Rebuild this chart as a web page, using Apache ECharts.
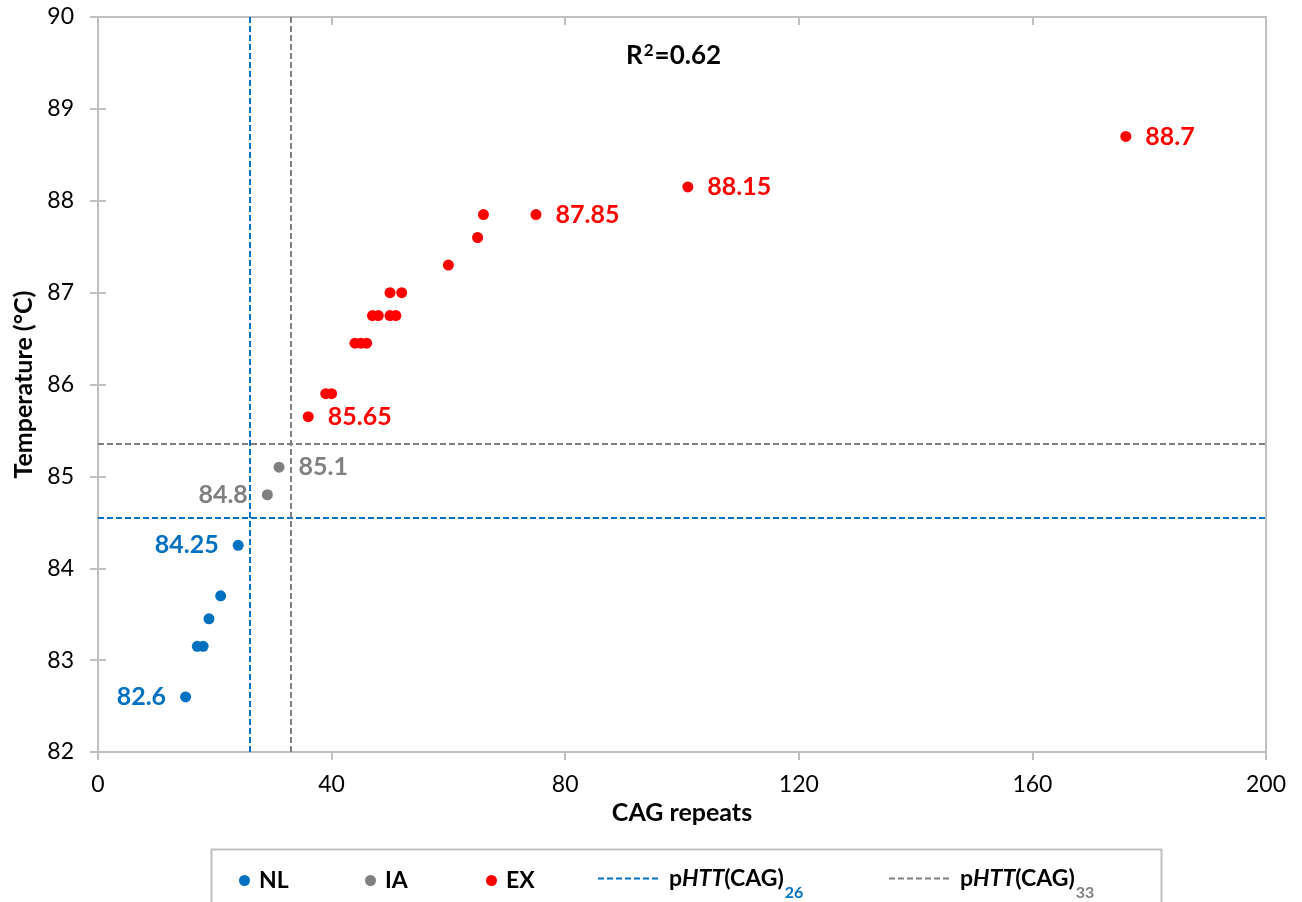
<!DOCTYPE html>
<html>
<head>
<meta charset="utf-8">
<title>CAG repeats vs temperature</title>
<script src="https://cdn.jsdelivr.net/npm/echarts@6/dist/echarts.min.js"></script>
<style>
  html, body { margin: 0; padding: 0; background: #fff; }
  #chart { width: 1302px; height: 902px; }
</style>
</head>
<body>
<div id="chart"></div>
<script>
// values
const nlX = [15, 17, 18, 19, 21, 24]
const nlY = [82.6, 83.15, 83.15, 83.45, 83.7, 84.25]
const iaX = [29, 31]
const iaY = [84.8, 85.1]
const exX = [36, 39, 40, 44, 45, 46, 47, 48, 50, 51, 50, 52, 60, 65, 66, 75, 101, 176]
const exY = [85.65, 85.9, 85.9, 86.45, 86.45, 86.45, 86.75, 86.75, 86.75, 86.75, 87.0, 87.0, 87.3, 87.6, 87.85, 87.85, 88.15, 88.7]
const cag26 = [26, 84.55]
const cag33 = [33, 85.35]
const xTicks = [0, 40, 80, 120, 160, 200]
const yTicks = [82, 83, 84, 85, 86, 87, 88, 89, 90]
const rSquared = '0.62'

const FONT = 'Lato'
const BLUE = '#0070c0'
const GREY = '#808080'
const RED = '#ff0000'
const AXIS = '#bfbfbf'

// which points carry a value label, and on which side
function points(xs, ys, color, labelled) {
  return xs.map((x, i) => {
    const item = { value: [x, ys[i]] }
    if (labelled[i]) {
      item.label = {
        show: true,
        position: labelled[i],
        distance: 14,
        formatter: String(ys[i]),
        color: color,
        fontFamily: FONT,
        fontWeight: 'bold',
        fontSize: 25
      }
    }
    return item
  })
}

function scatter(name, color, data) {
  return {
    name: name,
    type: 'scatter',
    symbolSize: 11,
    itemStyle: { color: color, opacity: 1 },
    data: data,
    z: 5
  }
}

function refLine(name, color, v) {
  return {
    name: name,
    type: 'line',
    data: [],
    symbol: 'none',
    itemStyle: { color: color },
    lineStyle: { color: color, width: 2, type: [6, 3] },
    markLine: {
      silent: true,
      symbol: 'none',
      animation: false,
      label: { show: false },
      lineStyle: { color: color, width: 2, type: [6, 3] },
      data: [{ xAxis: v[0] }, { yAxis: v[1] }]
    }
  }
}

const baseAxis = {
  type: 'value',
  axisLine: { show: true, lineStyle: { color: AXIS, width: 2 } },
  splitLine: { show: false }
}

const legendText = { fontFamily: FONT, fontWeight: 'bold', fontSize: 23, color: '#000', padding: [0, 0, 0, 4] }

function subRich(color) {
  return {
    n: { fontFamily: FONT, fontWeight: 'bold', fontSize: 23, color: '#000', lineHeight: 26 },
    i: { fontFamily: FONT, fontWeight: 'bold', fontStyle: 'italic', fontSize: 23, color: '#000', lineHeight: 26 },
    s: { fontFamily: FONT, fontWeight: 'bold', fontSize: 16, color: color, verticalAlign: 'bottom', lineHeight: 14, padding: [0, 0, -9, 1] }
  }
}

function scatterLegend(name, left) {
  return {
    data: [{ name: name, icon: 'circle' }],
    left: left,
    top: 869,
    padding: 0,
    itemWidth: 11,
    itemHeight: 11,
    textStyle: legendText
  }
}

function lineLegend(name, left, sub, color) {
  return {
    data: [name],
    left: left,
    top: 867,
    padding: 0,
    itemWidth: 60,
    itemHeight: 14,
    itemStyle: { opacity: 0 },
    formatter: () => '{n|p}{i|HTT}{n|(CAG)}{s|' + sub + '}',
    textStyle: { padding: [0, 0, 0, 6], rich: subRich(color) }
  }
}

const chart = echarts.init(document.getElementById('chart'))

chart.setOption({
  animation: false,
  backgroundColor: '#fff',
  grid: {
    left: 98, right: 36, top: 17, bottom: 150,
    show: true, borderColor: AXIS, borderWidth: 2
  },
  xAxis: [
    Object.assign({}, baseAxis, {
      min: xTicks[0], max: xTicks[xTicks.length - 1], interval: 40,
      name: 'CAG repeats', nameLocation: 'middle', nameGap: 44,
      nameTextStyle: { fontFamily: FONT, fontWeight: 'bold', fontSize: 25, color: '#000' },
      axisTick: { show: true, length: 8, lineStyle: { color: AXIS, width: 2 } },
      axisLabel: { fontFamily: FONT, fontSize: 23, color: '#000', margin: 21 }
    }),
    Object.assign({}, baseAxis, {
      min: xTicks[0], max: xTicks[xTicks.length - 1], interval: 40,
      axisTick: { show: true, inside: true, length: 8, lineStyle: { color: AXIS, width: 2 } },
      axisLabel: { show: false }
    })
  ],
  yAxis: [
    Object.assign({}, baseAxis, {
      min: yTicks[0], max: yTicks[yTicks.length - 1], interval: 1,
      name: 'Temperature (°C)', nameLocation: 'middle', nameGap: 62,
      nameTextStyle: { fontFamily: FONT, fontWeight: 'bold', fontSize: 25, color: '#000' },
      axisTick: { show: true, length: 8, lineStyle: { color: AXIS, width: 2 } },
      axisLabel: { fontFamily: FONT, fontSize: 23, color: '#000', margin: 24 }
    }),
    Object.assign({}, baseAxis, {
      position: 'left',
      min: yTicks[0], max: yTicks[yTicks.length - 1], interval: 1,
      axisTick: { show: true, inside: true, length: 8, lineStyle: { color: AXIS, width: 2 } },
      axisLabel: { show: false }
    })
  ],
  legend: [
    scatterLegend('NL', 239),
    scatterLegend('IA', 365),
    scatterLegend('EX', 486),
    lineLegend('pHTT(CAG)26', 597, '26', BLUE),
    lineLegend('pHTT(CAG)33', 888, '33', GREY)
  ],
  graphic: [
    {
      type: 'rect',
      left: 209, top: 847,
      shape: { width: 950, height: 80 },
      style: { fill: 'none', stroke: AXIS, lineWidth: 2 },
      z: -1
    },
    {
      type: 'text',
      left: 626,
      top: 42,
      style: {
        text: 'R{sup|2}=' + rSquared,
        font: 'bold 26px ' + FONT,
        fill: '#000',
        rich: {
          sup: { fontFamily: FONT, fontWeight: 'bold', fontSize: 17, fill: '#000', verticalAlign: 'top', padding: [0, 1, 10, 1] }
        }
      }
    }
  ],
  series: [
    scatter('NL', BLUE, points(nlX, nlY, BLUE, { 0: 'left', 5: 'left' })),
    scatter('IA', GREY, points(iaX, iaY, GREY, { 0: 'left', 1: 'right' })),
    scatter('EX', RED, points(exX, exY, RED, { 0: 'right', 15: 'right', 16: 'right', 17: 'right' })),
    refLine('pHTT(CAG)26', BLUE, cag26),
    refLine('pHTT(CAG)33', GREY, cag33)
  ]
})

window.addEventListener('resize', () => {
  chart.resize()
})
</script>
</body>
</html>
